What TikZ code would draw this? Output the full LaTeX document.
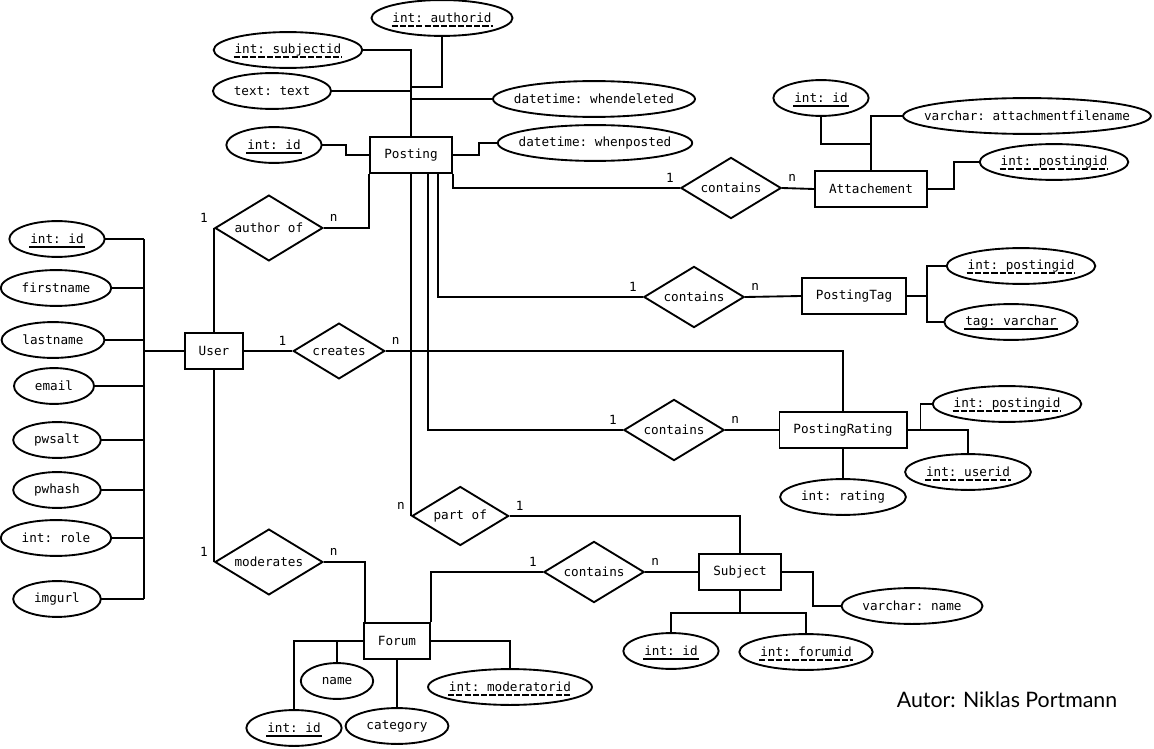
\documentclass[tikz,border=0pt]{standalone}
\usepackage{fontspec}
\setmonofont{DejaVu Sans Mono}
\newfontfamily\signfont{Lato}
\usetikzlibrary{shapes.geometric,calc}
\tikzset{
  every node/.style={font=\ttfamily\fontsize{9.5}{11}\selectfont},
  entity/.style={draw, rectangle, inner xsep=10.5pt, minimum height=27pt},
  rel/.style={draw, diamond, aspect=1.64, inner sep=3.3pt},
  attr/.style={inner xsep=15pt, inner ysep=0pt, minimum height=25.5pt,
    append after command={\pgfextra{\draw[line width=1.4pt]
      let \p1=($(\tikzlastnode.north east)-(\tikzlastnode.center)$) in
      (\tikzlastnode.center) ellipse [x radius=\x1, y radius=\y1];}}},
  % keys: solid underline, foreign keys: dashed underline
  keyline/.style={append after command={\pgfextra{\draw[line width=1.1pt, #1]
      let \p1=(\tikzlastnode.base west), \p2=(\tikzlastnode.base east) in
      (\x1+15pt,\y1-2.6pt) -- (\x2-15pt,\y2-2.6pt);}}},
  pk/.style={attr, keyline=solid},
  fk/.style={attr, keyline={dash pattern=on 4.6pt off 1.6pt}},
  card/.style={inner sep=0pt}
}
\begin{document}
\begin{tikzpicture}[x=0.75pt, y=-0.75pt, line width=1.4pt]
\useasboundingbox (0,0) rectangle (1154,749);
% entities
\node[entity] (P) at (411,155) {Posting};
\node[entity] (U) at (214,351) {User};
\node[entity] (A) at (871,189) {Attachement};
\node[entity] (T) at (854,296) {PostingTag};
\node[entity] (PR) at (843,430) {PostingRating};
\node[entity] (S) at (740,572) {Subject};
\node[entity] (F) at (397,641) {Forum};
% relations
\node[rel, anchor=west] (rauth) at (214,228) {author of};
\node[rel] (rcreate) at (339,351) {creates};
\node[rel] (rattach) at (731,188) {contains};
\node[rel] (rtag) at (694,297) {contains};
\node[rel] (rrate) at (674,430) {contains};
\node[rel, anchor=west] (rpart) at (411,516) {part of};
\node[rel, anchor=west] (rmod) at (214,562) {moderates};
\node[rel] (rsub) at (594,572) {contains};
% attributes of Posting
\node[fk] (pauth) at (442,18) {int: authorid};
\node[fk] (psubj) at (288,50) {int: subjectid};
\node[attr] (ptext) at (272,91) {text: text};
\node[attr] (pdel) at (594,99) {datetime: whendeleted};
\node[pk] (pid) at (274,145) {int: id};
\node[attr] (ppost) at (595,143) {datetime: whenposted};
% attributes of Attachement
\node[pk] (aid) at (821,98) {int: id};
\node[attr] (afile) at (1027,116) {varchar: attachmentfilename};
\node[fk] (apost) at (1054,162) {int: postingid};
% attributes of PostingTag
\node[fk] (tpost) at (1021,266) {int: postingid};
\node[pk] (ttag) at (1011,322) {tag: varchar};
% attributes of PostingRating
\node[fk] (rpost) at (1007,404) {int: postingid};
\node[fk] (ruser) at (968,472) {int: userid};
\node[attr] (rrating) at (843,497) {int: rating};
% attributes of User
\node[pk] (uid) at (57,239) {int: id};
\node[attr] (ufirst) at (56,288) {firstname};
\node[attr] (ulast) at (53,340) {lastname};
\node[attr] (umail) at (54,386) {email};
\node[attr] (usalt) at (57,440) {pwsalt};
\node[attr] (uhash) at (57,490) {pwhash};
\node[attr] (urole) at (56,538) {int: role};
\node[attr] (uimg) at (57,599) {imgurl};
% attributes of Forum
\node[attr] (fname) at (337,681) {name};
\node[pk] (fid) at (294,728) {int: id};
\node[attr] (fcat) at (397,726) {category};
\node[fk] (fmod) at (510,687) {int: moderatorid};
% attributes of Subject
\node[attr] (sname) at (912,606) {varchar: name};
\node[pk] (sid) at (671,651) {int: id};
\node[fk] (sfid) at (806,652) {int: forumid};

% Posting
\coordinate (ptrunk) at (411,87);
\draw (psubj.east) -| (P.north);
\draw (pauth.south) |- (ptrunk);
\draw (ptext.east) -- (ptext.east -| P.north);
\draw (pdel.west) -- (pdel.west -| P.north);
\draw (pid.east) -- ++(24,0) |- (P.west);
\draw (P.east) -- ++(26,0) |- (ppost.west);
\draw (P.south east) |- (rattach.west);
\draw (P.south) ++(27,0) |- (rtag.west);
\draw (P.south) ++(17,0) |- (rrate.west);
\draw (P.south) -- (rpart.west);
\draw (P.south west) |- (rauth.east);
% User
\draw (rauth.west) -- (U.north);
\draw (U.east) -- (rcreate.west);
\draw (rcreate.east) -| (PR.north);
\draw (U.south) -- (rmod.west);
\draw (F.north west) ++(2,0) |- (rmod.east);
\coordinate (utrunk) at (144,351);
\draw (U.west) -- (utrunk);
\foreach \a in {uid,ufirst,ulast,umail,usalt,uhash,urole,uimg}
  \draw (\a.east) -- (\a.east -| utrunk);
\draw (uid.east -| utrunk) -- (uimg.east -| utrunk);
% Attachement
\draw (rattach.east) -- (A.west);
\draw (aid.south) -- ++(0,28) -| (A.north);
\draw (afile.west) -| (A.north);
\draw (A.east) -- ++(26,0) |- (apost.west);
% PostingTag
\draw (rtag.east) -- (T.west);
\draw (T.east) -- ++(20,0) coordinate (ttrunk);
\draw (tpost.west) -| (ttrunk) |- (ttag.west);
% PostingRating
\draw (rrate.east) -- (PR.west);
\draw (PR.east) -| (ruser.north);
\draw (PR.east) ++(13,0) |- (rpost.west);
\draw (PR.south) -- (rrating.north);
% Subject
\draw (rpart.east) -| (S.north);
\draw (F.north east) |- (rsub.west);
\draw (rsub.east) -- (S.west);
\draw (S.east) -- ++(31,0) |- (sname.west);
\draw (S.south) -- ++(0,22) coordinate (strunk);
\draw (sid.north) |- (strunk) -| (sfid.north);
% Forum
\draw (F.west) -| (fid.north);
\draw (fname.north) -- (fname.north |- F.west);
\draw (F.south) -- (fcat.north);
\draw (F.east) -| (fmod.north);
% cardinalities
\foreach \r/\a/\b in {rauth/1/n, rcreate/1/n, rattach/1/n, rtag/1/n,
    rrate/1/n, rpart/n/1, rmod/1/n, rsub/1/n} {
  \node[card] (\r-a) at ([shift={(-10,-10)}]\r.west) {\a};
  \node[card] (\r-b) at ([shift={(10,-10)}]\r.east) {\b};
}
\node[font=\signfont\fontsize{16}{18}\selectfont] (sign) at (1007,700) {Autor: Niklas Portmann};
\end{tikzpicture}
\end{document}
